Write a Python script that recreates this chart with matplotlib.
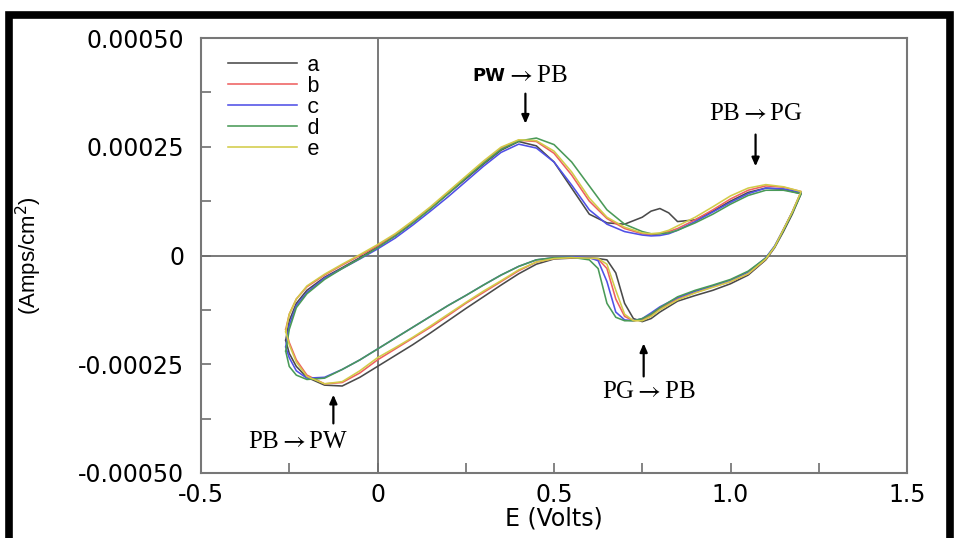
import matplotlib
matplotlib.use("Agg")
import matplotlib.pyplot as plt
from matplotlib.patches import Rectangle
from matplotlib.ticker import MultipleLocator, FixedLocator
import numpy as np

plt.rcParams["mathtext.fontset"] = "stix"

# ---------------- data (current in units of 1e-4 A/cm^2) ----------------
E_up = [-0.26, -0.25, -0.23, -0.2, -0.15, -0.1, -0.05, 0.0, 0.05, 0.1, 0.15, 0.2,
        0.25, 0.3, 0.35, 0.4, 0.45, 0.5, 0.55, 0.6, 0.65, 0.7, 0.75, 0.775, 0.8,
        0.825, 0.85, 0.9, 0.95, 1.0, 1.05, 1.1, 1.15, 1.2]
E_dn = [1.2, 1.175, 1.15, 1.125, 1.1, 1.05, 1.0, 0.95, 0.9, 0.85, 0.8, 0.775, 0.75,
        0.725, 0.7, 0.675, 0.65, 0.625, 0.6, 0.55, 0.5, 0.45, 0.4, 0.35, 0.3, 0.25,
        0.2, 0.15, 0.1, 0.05, 0.0, -0.05, -0.1, -0.15, -0.2, -0.23, -0.25, -0.26]

I_up_a = [-1.95, -1.5, -1.1, -0.8, -0.5, -0.28, -0.05, 0.2, 0.45, 0.75, 1.08, 1.42,
          1.76, 2.1, 2.42, 2.62, 2.52, 2.15, 1.55, 0.95, 0.75, 0.72, 0.88, 1.02, 1.08,
          0.98, 0.78, 0.82, 1.02, 1.25, 1.45, 1.55, 1.52, 1.42]
I_up_b = [-1.7, -1.35, -1.0, -0.72, -0.45, -0.22, 0.0, 0.22, 0.48, 0.78, 1.1, 1.45,
          1.8, 2.15, 2.47, 2.65, 2.62, 2.35, 1.85, 1.25, 0.85, 0.62, 0.5, 0.48, 0.5,
          0.55, 0.62, 0.82, 1.05, 1.3, 1.5, 1.6, 1.57, 1.47]
I_up_c = [-2.1, -1.6, -1.15, -0.85, -0.52, -0.3, -0.08, 0.15, 0.4, 0.7, 1.02, 1.35,
          1.7, 2.05, 2.37, 2.56, 2.47, 2.15, 1.62, 1.05, 0.72, 0.55, 0.47, 0.45, 0.46,
          0.5, 0.58, 0.78, 1.0, 1.22, 1.42, 1.55, 1.53, 1.45]
I_up_d = [-2.2, -1.7, -1.2, -0.88, -0.55, -0.3, -0.07, 0.18, 0.45, 0.75, 1.07, 1.42,
          1.78, 2.12, 2.44, 2.63, 2.7, 2.55, 2.15, 1.6, 1.05, 0.72, 0.55, 0.5, 0.5,
          0.52, 0.58, 0.75, 0.95, 1.18, 1.38, 1.5, 1.5, 1.42]
I_up_e = [-1.75, -1.35, -1.0, -0.7, -0.43, -0.2, 0.02, 0.25, 0.5, 0.8, 1.12, 1.47,
          1.82, 2.17, 2.49, 2.66, 2.64, 2.4, 1.92, 1.32, 0.88, 0.65, 0.52, 0.5, 0.52,
          0.58, 0.68, 0.88, 1.12, 1.37, 1.55, 1.63, 1.58, 1.47]

I_dn_a = [1.42, 0.95, 0.55, 0.18, -0.1, -0.45, -0.65, -0.8, -0.92, -1.05, -1.3, -1.45,
          -1.52, -1.45, -1.1, -0.4, -0.1, -0.07, -0.06, -0.06, -0.08, -0.2, -0.42, -0.68,
          -0.95, -1.22, -1.5, -1.78, -2.05, -2.3, -2.55, -2.8, -3.0, -2.98, -2.8, -2.55,
          -2.25, -1.95]
I_dn_b = [1.47, 1.0, 0.6, 0.2, -0.08, -0.42, -0.6, -0.72, -0.85, -1.0, -1.22, -1.38,
          -1.48, -1.5, -1.4, -1.0, -0.3, -0.08, -0.06, -0.05, -0.07, -0.15, -0.35, -0.6,
          -0.85, -1.1, -1.38, -1.65, -1.9, -2.15, -2.4, -2.7, -2.92, -2.95, -2.75, -2.4,
          -2.0, -1.7]
I_dn_c = [1.45, 1.0, 0.6, 0.22, -0.05, -0.38, -0.57, -0.7, -0.82, -0.97, -1.18, -1.32,
          -1.45, -1.5, -1.48, -1.3, -0.6, -0.12, -0.05, -0.03, -0.05, -0.1, -0.25, -0.45,
          -0.68, -0.92, -1.15, -1.4, -1.65, -1.9, -2.15, -2.4, -2.62, -2.8, -2.82, -2.65,
          -2.35, -2.1]
I_dn_d = [1.42, 0.98, 0.58, 0.2, -0.06, -0.36, -0.55, -0.68, -0.8, -0.95, -1.2, -1.35,
          -1.45, -1.5, -1.5, -1.42, -1.1, -0.3, -0.1, -0.04, -0.05, -0.1, -0.25, -0.45,
          -0.68, -0.92, -1.15, -1.4, -1.65, -1.9, -2.15, -2.4, -2.62, -2.82, -2.85, -2.75,
          -2.55, -2.2]
I_dn_e = [1.47, 1.0, 0.6, 0.2, -0.08, -0.42, -0.6, -0.73, -0.86, -1.02, -1.25, -1.4,
          -1.5, -1.5, -1.35, -0.8, -0.2, -0.07, -0.06, -0.05, -0.07, -0.15, -0.33, -0.58,
          -0.82, -1.08, -1.35, -1.62, -1.88, -2.12, -2.35, -2.65, -2.9, -2.95, -2.78, -2.45,
          -2.05, -1.75]

series_labels = ["a", "b", "c", "d", "e"]
series_colors = ["#4a4a4a", "#ee6060", "#5050e6", "#4a9a58", "#d2cc48"]
x_ticks = [-0.5, 0.0, 0.5, 1.0, 1.5]
x_ticklabels = ["-0.5", "0", "0.5", "1.0", "1.5"]
y_ticks = [-0.0005, -0.00025, 0.0, 0.00025, 0.0005]
y_ticklabels = ["-0.00050", "-0.00025", "0", "0.00025", "0.00050"]

ups = [I_up_a, I_up_b, I_up_c, I_up_d, I_up_e]
dns = [I_dn_a, I_dn_b, I_dn_c, I_dn_d, I_dn_e]

# ---------------- figure ----------------
fig = plt.figure(figsize=(9.55, 5.38), dpi=100)
ax = fig.add_axes([201/955, 1-473/538, 706/955, 435/538])

ax.axhline(0, color="#6e6e6e", lw=1.3, zorder=1)
ax.axvline(0, color="#6e6e6e", lw=1.3, zorder=1)

handles = []
for lab, col, up, dn in zip(series_labels, series_colors, ups, dns):
    E = np.concatenate([E_up, E_dn])
    I = np.concatenate([up, dn]) * 1e-4
    h, = ax.plot(E, I, color=col, lw=1.15, label=lab, zorder=2)
    handles.append(h)

ax.set_xlim(-0.5, 1.5)
ax.set_ylim(-0.0005, 0.0005)
ax.xaxis.set_major_locator(FixedLocator(x_ticks))
ax.set_xticklabels(x_ticklabels)
ax.yaxis.set_major_locator(FixedLocator(y_ticks))
ax.set_yticklabels(y_ticklabels)
ax.xaxis.set_minor_locator(MultipleLocator(0.25))
ax.yaxis.set_minor_locator(MultipleLocator(0.000125))
ax.tick_params(which="both", direction="in", length=7, width=1.2, color="#6e6e6e",
               top=False, right=False)
ax.tick_params(axis="y", which="major", labelsize=17, pad=12)
ax.tick_params(axis="x", which="major", labelsize=17, pad=7)
for lbl in ax.get_xticklabels() + ax.get_yticklabels():
    lbl.set_fontfamily("DejaVu Sans")
for sp in ax.spines.values():
    sp.set_color("#777777")
    sp.set_linewidth(1.5)

ax.set_xlabel("E (Volts)", fontsize=17, family="DejaVu Sans", labelpad=0)
ax.set_ylabel("(Amps/cm$^2$)", fontsize=16, family="Liberation Sans")
ax.yaxis.set_label_coords(-0.222, 0.5)
ax.yaxis.label.set_math_fontfamily("dejavusans")

leg = ax.legend(handles=handles, loc="upper left", bbox_to_anchor=(0.038, 0.962),
                frameon=False, prop={"family": "Liberation Mono", "size": 15.5},
                handlelength=3.2, handletextpad=0.45, labelspacing=0.0,
                borderaxespad=0.0, borderpad=0.0)

serif = {"family": "Liberation Serif", "size": 18}
arrow_kw = dict(arrowstyle="-|>,head_length=0.5,head_width=0.22", color="black", lw=1.6,
                shrinkA=0, shrinkB=0)
ARW = "$\\rightarrow$"

# PW -> PB
ax.text(0.363, 0.000412, "PW", ha="right", va="center", family="DejaVu Sans",
        fontsize=13, fontweight="bold")
ax.text(0.363, 0.000412, ARW + "PB", ha="left", va="center", **serif)
ax.annotate("", xy=(0.419, 0.000303), xytext=(0.419, 0.000372), arrowprops=arrow_kw)
# PB -> PG
ax.text(1.071, 0.000326, "PB" + ARW + "PG", ha="center", va="center", **serif)
ax.annotate("", xy=(1.071, 0.000205), xytext=(1.071, 0.000278), arrowprops=arrow_kw)
# PG -> PB
ax.text(0.768, -0.000313, "PG" + ARW + "PB", ha="center", va="center", **serif)
ax.annotate("", xy=(0.754, -0.000202), xytext=(0.754, -0.000278), arrowprops=arrow_kw)
# PB -> PW
ax.text(-0.224, -0.000428, "PB" + ARW + "PW", ha="center", va="center", **serif)
ax.annotate("", xy=(-0.125, -0.00032), xytext=(-0.125, -0.000386), arrowprops=arrow_kw)

# outer black frame
fig.patches.append(Rectangle((9/955, -0.05), 941/955, 1.05 - 15/538,
                             transform=fig.transFigure, fill=False,
                             edgecolor="black", lw=5.5, clip_on=False))

fig.savefig("out.png", dpi=100)
